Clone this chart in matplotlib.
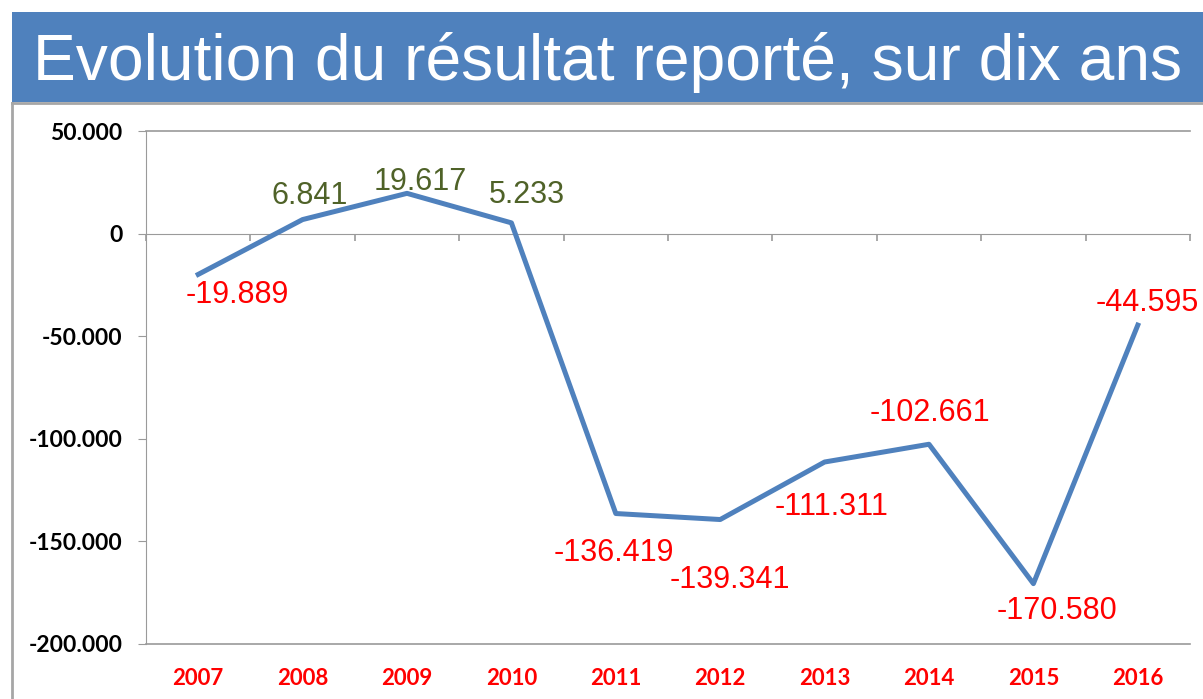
import numpy as np
import matplotlib.pyplot as plt
from matplotlib.patches import Rectangle
from matplotlib.lines import Line2D

years = ["2007", "2008", "2009", "2010", "2011", "2012", "2013", "2014", "2015", "2016"]
resultat = [-19889, 6841, 19617, 5233, -136419, -139341, -111311, -102661, -170580, -44595]
y_ticks = [50000, 0, -50000, -100000, -150000, -200000]

# label offsets in pixels (dx, dy) relative to each point
label_offsets = [(39, -21), (7, 24), (13, 11), (15, 28), (-2, -39), (10, -60), (7, -45), (1, 31), (24, -27), (9, 22)]

title = "Evolution du résultat reporté, sur dix ans"
blue = "#4F81BD"
green = "#4F6228"
grey = "#9A9A9A"


def fmt(v):
    return f"{v:,.0f}".replace(",", ".")


W, H = 1203, 699
fig = plt.figure(figsize=(W / 100, H / 100), dpi=100)

# title banner
fig.patches.append(Rectangle((12 / W, 1 - 102 / H), 1 - 12 / W, 90 / H,
                             transform=fig.transFigure, facecolor=blue, edgecolor="none"))
fig.text(33 / W, 1 - 80 / H, title, color="white", fontsize=46.2,
         family="Liberation Sans", ha="left", va="baseline")

# panel border
fig.lines.append(Line2D([12 / W, 12 / W], [0, 1 - 103 / H], transform=fig.transFigure,
                        color="#A6A6A6", lw=2))
fig.lines.append(Line2D([12 / W, 1], [1 - 103 / H, 1 - 103 / H], transform=fig.transFigure,
                        color="#A6A6A6", lw=2))

ax = fig.add_axes([146 / W, 1 - 644 / H, (1190 - 146) / W, (644 - 131) / H])
x = np.arange(len(years))
ax.plot(x, resultat, color=blue, lw=3.6, solid_joinstyle="round", zorder=3)

ax.set_xlim(-0.5, len(years) - 0.5)
ax.set_ylim(-200000, 50000)

for s in ["top", "right"]:
    ax.spines[s].set_visible(False)
ax.spines["left"].set_color(grey)
ax.spines["bottom"].set_color(grey)
ax.spines["bottom"].set_position(("data", 0))
ax.axhline(50000, color=grey, lw=1.2, clip_on=False)
ax.axhline(-200000, color=grey, lw=1.2, clip_on=False)

ax.set_yticks(y_ticks)
ax.set_yticklabels([fmt(v) for v in y_ticks], family="Lato", fontweight="bold", fontsize=16.5)
ax.tick_params(axis="y", length=6, color=grey, pad=11)

ax.set_xticks(np.arange(-0.5, len(years)))
ax.set_xticklabels([])
ax.tick_params(axis="x", length=5, color=grey, width=1.2)

for i, yr in enumerate(years):
    ax.text(i, -0.068, yr, transform=ax.get_xaxis_transform(), ha="center", va="center",
            color="red", family="Lato", fontweight="bold", fontsize=16)

for i, v in enumerate(resultat):
    dx, dy = label_offsets[i]
    ax.annotate(fmt(v), (i, v), xytext=(dx * 0.72, dy * 0.72), textcoords="offset points",
                ha="center", va="center", color=green if v > 0 else "red",
                family="Liberation Sans", fontsize=22, annotation_clip=False, zorder=4)

fig.savefig("out.png", dpi=100)
